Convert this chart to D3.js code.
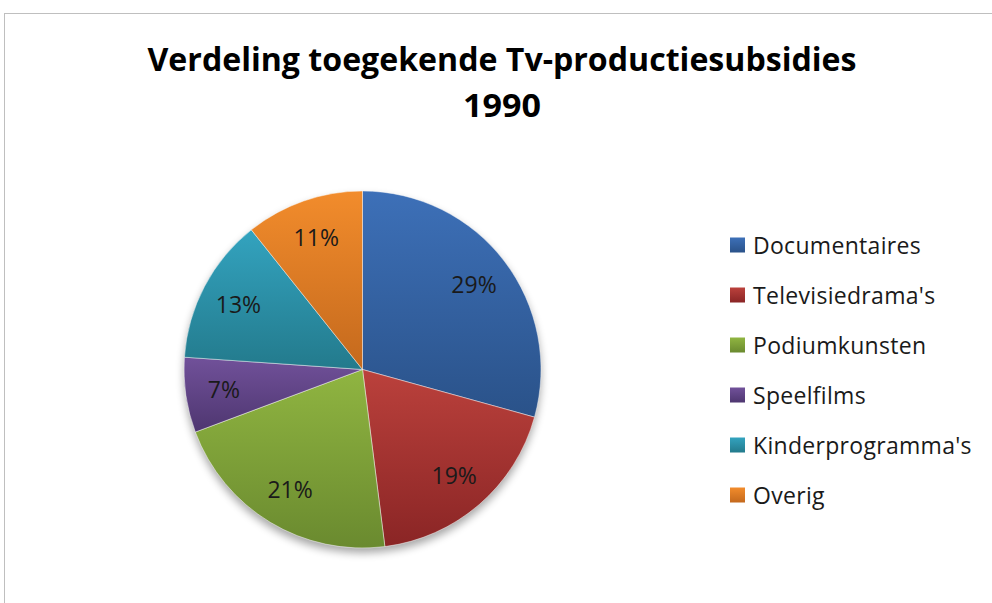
<!DOCTYPE html>
<meta charset="utf-8">
<title>Verdeling toegekende Tv-productiesubsidies 1990</title>
<style>
body {
  margin: 0;
  background: #fff;
}
svg text {
  font-family: 'Open Sans', sans-serif;
}
.slice {
  stroke: #fff;
  stroke-opacity: 0.45;
  stroke-width: 1;
}
.pct {
  font-size: 23px;
  fill: #1a1a1a;
  text-anchor: middle;
}
.legend text {
  font-size: 23px;
  fill: #1a1a1a;
  letter-spacing: 0.3px;
}
</style>
<body>
<svg width="992" height="603"></svg>
<script src="https://d3js.org/d3.v7.min.js"></script>
<script>
// data
var categories = ["Documentaires", "Televisiedrama's", "Podiumkunsten", "Speelfilms", "Kinderprogramma's", "Overig"];
var shares = [29.3, 18.7, 21.3, 6.8, 13.2, 10.7];
var pctLabels = ["29%", "19%", "21%", "7%", "13%", "11%"];
var titleLines = ["Verdeling toegekende Tv-productiesubsidies", "1990"];

// gradient top / bottom colours per slice
var topColors = ["#3d70b8", "#bb413c", "#90b541", "#71519a", "#33a3bf", "#f28c2c"];
var bottomColors = ["#2a5289", "#8a2525", "#6a8a2f", "#4e3670", "#237a8c", "#c4691d"];

var svg = d3.select("svg"),
    cx = 362.5, cy = 369.5, radius = 178.5;

// chart frame (cropped on the right/bottom in the source)
svg.append("rect")
    .attr("x", 4.5).attr("y", 13.5)
    .attr("width", 1100).attr("height", 1100)
    .attr("fill", "#fff")
    .attr("stroke", "#bfbfbf");

var defs = svg.append("defs");

categories.forEach(function(c, i) {
  var gr = defs.append("linearGradient")
      .attr("id", "grad" + i)
      .attr("x1", 0).attr("y1", 0).attr("x2", 0).attr("y2", 1);
  gr.append("stop").attr("offset", "0%").attr("stop-color", topColors[i]);
  gr.append("stop").attr("offset", "100%").attr("stop-color", bottomColors[i]);
});

var shadow = defs.append("filter")
    .attr("id", "shadow")
    .attr("x", "-20%").attr("y", "-20%").attr("width", "140%").attr("height", "140%");
shadow.append("feGaussianBlur").attr("stdDeviation", 4);

// title
svg.selectAll("text.title")
  .data(titleLines)
  .enter().append("text")
    .attr("class", "title")
    .attr("x", 502)
    .attr("y", function(d, i) { return 71 + i * 46; })
    .attr("text-anchor", "middle")
    .attr("font-size", "33px")
    .attr("font-weight", "bold")
    .attr("fill", "#000")
    .attr("textLength", function(d, i) { return i == 0 ? 709 : 78; })
    .attr("lengthAdjust", "spacingAndGlyphs")
    .text(function(d) { return d; });

var pie = d3.pie().sort(null).value(function(d) { return d; });
var arc = d3.arc().innerRadius(0).outerRadius(radius);
var labelArc = d3.arc().innerRadius(radius * 0.785).outerRadius(radius * 0.785);
var arcs = pie(shares);

var g = svg.append("g").attr("transform", "translate(" + cx + "," + cy + ")");

// soft shadow below the pie
g.append("circle")
    .attr("cx", 0).attr("cy", 5)
    .attr("r", radius)
    .attr("fill", "#000")
    .attr("opacity", 0.35)
    .attr("filter", "url(#shadow)");

g.selectAll("path.slice")
  .data(arcs)
  .enter().append("path")
    .attr("class", "slice")
    .attr("d", arc)
    .attr("fill", function(d, i) { return "url(#grad" + i + ")"; });

g.selectAll("text.pct")
  .data(arcs)
  .enter().append("text")
    .attr("class", "pct")
    .attr("transform", function(d) { return "translate(" + labelArc.centroid(d) + ")"; })
    .attr("dy", "0.36em")
    .text(function(d, i) { return pctLabels[i]; });

// legend
var legend = svg.append("g").attr("class", "legend")
    .attr("transform", "translate(730,245)");

var item = legend.selectAll("g")
  .data(categories)
  .enter().append("g")
    .attr("transform", function(d, i) { return "translate(0," + i * 50 + ")"; });

item.append("rect")
    .attr("x", 0).attr("y", -7.5)
    .attr("width", 15).attr("height", 15)
    .attr("fill", function(d, i) { return "url(#grad" + i + ")"; });

item.append("text")
    .attr("x", 23)
    .attr("dy", "0.38em")
    .text(function(d) { return d; });
</script>
</body>
